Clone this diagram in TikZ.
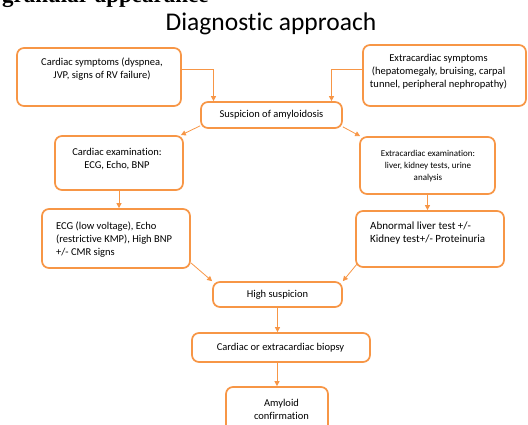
\documentclass[tikz,border=0pt]{standalone}
\usepackage{fontspec}
\setmainfont[Ligatures=NoCommon]{Carlito}
\newfontfamily\headfont{Liberation Serif}
\usepackage{tikz}
\usetikzlibrary{arrows.meta}
\definecolor{DiagOrange}{HTML}{F79646}

\begin{document}
\begin{tikzpicture}[x=1pt, y=-1pt,
    box/.style={draw=DiagOrange, line width=1.7pt, rounded corners=7pt},
    txt/.style={font=\fontsize{10.5}{13}\selectfont, align=center, inner sep=0pt},
    arr/.style={DiagOrange, line width=0.8pt, -{Triangle[length=5pt, width=5pt]}}]
                \useasboundingbox (0,0) rectangle (528,425);
                % cut-off line of the page above, and the heading
                \node[anchor=base west, inner sep=0pt, font=\headfont\bfseries\fontsize{23}{26}\selectfont]
                    (pageline) at (2,2.6) {granular appearance};
                \node[anchor=base, inner sep=0pt, font=\fontsize{25.5}{30}\selectfont]
                    (title) at (271,30.7) {Diagnostic approach};
                % boxes
                \node[box, minimum width=164pt, minimum height=58pt] (cardsym) at (99,77) {};
                \node[box, minimum width=163pt, minimum height=61pt] (extrasym) at (444.5,75.5) {};
                \node[box, minimum width=141pt, minimum height=26pt] (susp) at (271.5,115) {};
                \node[box, minimum width=128pt, minimum height=54pt] (cardex) at (119,163) {};
                \node[box, minimum width=135pt, minimum height=57pt] (extraex) at (427.5,165.5) {};
                \node[box, minimum width=148pt, minimum height=59pt] (ecg) at (116,238.5) {};
                \node[box, minimum width=148pt, minimum height=56pt] (abn) at (430,239) {};
                \node[box, minimum width=129pt, minimum height=25pt] (high) at (277.5,294.5) {};
                \node[box, minimum width=178pt, minimum height=29pt] (biop) at (281,347.5) {};
                \node[box, minimum width=102pt, minimum height=50pt] (amy) at (277,412) {};
                % texts
                \node[txt] (cardsymT) at (102,69) {Cardiac symptoms (dyspnea,\\JVP, signs of RV failure)};
                \node[txt] (extrasymT) at (438.5,72) {Extracardiac symptoms\\(hepatomegaly, bruising, carpal\\tunnel, peripheral nephropathy)};
                \node[txt] (suspT) at (271.5,115) {Suspicion of amyloidosis};
                \node[txt] (cardexT) at (117,159) {Cardiac examination:\\ECG, Echo, BNP};
                \node[txt, font=\fontsize{9}{12}\selectfont] (extraexT) at (428,166) {Extracardiac examination:\\liver, kidney tests, urine\\analysis};
                \node[txt, anchor=west, align=left] (ecgT) at (56,240) {ECG (low voltage), Echo\\(restrictive KMP), High BNP\\+/- CMR signs};
                \node[txt, anchor=west, align=left, font=\fontsize{11}{12.5}\selectfont] (abnT) at (370,233) {Abnormal liver test +/-\\Kidney test+/- Proteinuria};
                \node[txt] (highT) at (277.5,295) {High suspicion};
                \node[txt] (biopT) at (280.5,348) {Cardiac or extracardiac biopsy};
                \node[txt] (amyT) at (281.5,409) {Amyloid\\confirmation};
                % connectors
                \draw[arr] ([yshift=8pt]cardsym.east) -| ([xshift=-58pt]susp.north);
                \draw[arr] ([yshift=6pt]extrasym.west) -| ([xshift=60pt]susp.north);
                \draw[arr] ([yshift=3pt]susp.south west) -- ([xshift=-3pt]cardex.north east);
                \draw[arr] ([yshift=2pt]susp.south east) -- ([xshift=1pt]extraex.north west);
                \draw[arr] (cardex.south) -- (cardex.south |- ecg.north);
                \draw[arr] (extraex.south) -- (extraex.south |- abn.north);
                \draw[arr] ([yshift=6pt]ecg.south east) -- (high.north west);
                \draw[arr] ([xshift=2pt, yshift=4pt]abn.south west) -- (high.north east);
                \draw[arr] (high.south) -- (high.south |- biop.north);
                \draw[arr] (amy.north |- biop.south) -- (amy.north);
            \end{tikzpicture}
\end{document}
